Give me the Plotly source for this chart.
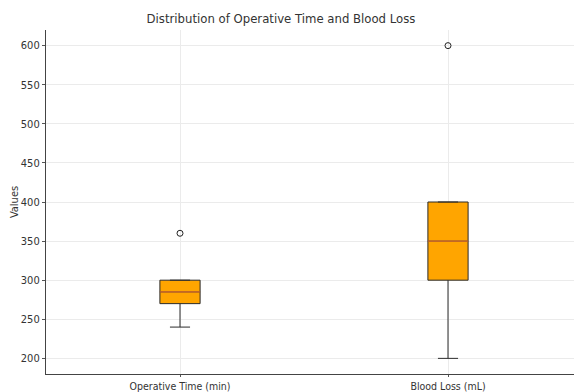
import plotly.graph_objects as go

categories = ["Operative Time (min)", "Blood Loss (mL)"]
positions = [1, 2]
q1 = [270, 300]
median = [285, 350]
q3 = [300, 400]
lower_whisker = [240, 200]
upper_whisker = [300, 400]
outliers = [[360], [600]]
y_ticks = [200, 250, 300, 350, 400, 450, 500, 550, 600]

box_width = 0.15
font_family = "DejaVu Sans Condensed, DejaVu Sans, sans-serif"

# the page body adds an 8px offset, so the figure is sized to fill the rest
W, H = 574, 384

fig = go.Figure()
for i, cat in enumerate(categories):
    fig.add_trace(go.Box(
        x=[positions[i]], q1=[q1[i]], median=[median[i]], q3=[q3[i]],
        lowerfence=[lower_whisker[i]], upperfence=[upper_whisker[i]],
        width=box_width, whiskerwidth=0.5,
        fillcolor="#FFA500", line=dict(color="#2b2b2b", width=1),
        boxpoints=False, showlegend=False, name=cat,
    ))
    fig.add_trace(go.Scatter(
        x=[positions[i] - box_width / 2, positions[i] + box_width / 2],
        y=[median[i], median[i]], mode="lines",
        line=dict(color="#f07030", width=1), showlegend=False, hoverinfo="skip",
    ))
    fig.add_trace(go.Scatter(
        x=[positions[i]] * len(outliers[i]), y=outliers[i], mode="markers",
        marker=dict(symbol="circle-open", size=6, color="#222222", line=dict(width=1)),
        showlegend=False,
    ))

fig.update_layout(
    width=W, height=H,
    margin=dict(l=38, r=0, t=22, b=18, autoexpand=False),
    paper_bgcolor="white", plot_bgcolor="white",
    font=dict(family=font_family, size=11, color="#333333"),
    title=dict(text="Distribution of Operative Time and Blood Loss",
               x=273 / W, xanchor="center", y=1 - 10 / H, yanchor="middle",
               font=dict(size=13, color="#333333", family=font_family)),
    xaxis=dict(range=[0.5, 2.5], tickvals=positions, ticktext=categories,
               showgrid=True, gridcolor="#ebebeb", gridwidth=1,
               showline=True, linecolor="#444444", linewidth=1.2,
               ticks="outside", ticklen=2, tickcolor="#555555",
               zeroline=False, tickfont=dict(size=10.5), automargin=False),
    yaxis=dict(range=[180, 620], tickvals=y_ticks,
               showgrid=True, gridcolor="#ebebeb", gridwidth=1,
               showline=True, linecolor="#444444", linewidth=1.2,
               ticks="outside", ticklen=3, tickcolor="#555555",
               zeroline=False, tickfont=dict(size=11), automargin=False,
               title=dict(text="Values", standoff=5, font=dict(size=11))),
)

fig.write_html("out.html")
